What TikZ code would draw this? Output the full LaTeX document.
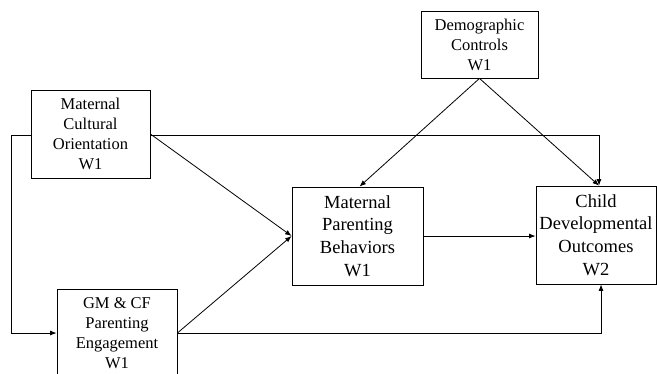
\documentclass[tikz,border=0pt]{standalone}
\usepackage{fontspec}
\setmainfont{Liberation Serif}
\usetikzlibrary{arrows.meta,calc}
\begin{document}
\begin{tikzpicture}[x=1pt,y=-1pt,
  smallbox/.style={draw,line width=0.8pt,inner sep=0pt,align=center,
    font=\fontsize{16.5}{20}\selectfont},
  bigbox/.style={draw,line width=0.8pt,inner sep=0pt,align=center,
    font=\fontsize{18.5}{22.7}\selectfont},
  conn/.style={line width=0.8pt,-{Latex[length=6.5pt,width=5pt]}},
  plain/.style={line width=0.8pt}]
\useasboundingbox[fill=white] (0,0) rectangle (657,373);
\node[smallbox,minimum width=119pt,minimum height=88pt] (mco) at (90.5,134) {Maternal\\Cultural\\Orientation\\W1};
\node[smallbox,minimum width=117pt,minimum height=67pt] (demo) at (479.5,44.5) {Demographic\\Controls\\W1};
\node[smallbox,minimum width=120pt,minimum height=88pt] (gm) at (117,333) {GM \& CF\\Parenting\\Engagement\\W1};
\node[bigbox,minimum width=131pt,minimum height=98pt] (mpb) at (357.5,236) {Maternal\\Parenting\\Behaviors\\W1};
\node[bigbox,minimum width=120pt,minimum height=98pt] (child) at (596,235) {Child\\Developmental\\Outcomes\\W2};
\coordinate (ctop) at ([xshift=3pt]child.north);
\coordinate (cbot) at ([xshift=5pt]child.south);
\coordinate (mcoR) at ([yshift=-1pt]mco.east);
\coordinate (mcoL) at ([yshift=-1pt]mco.west);
\draw[conn] (mcoR) -| (ctop);
\draw[conn] (mcoL) -- ++(-19,0) |- (gm.west);
\draw[conn] (mco.east) -- (mpb.west);
\draw[conn] (gm.east) -- (mpb.west);
\draw[conn] (gm.east) -| (cbot);
\draw[conn] (mpb.east) -- (mpb.east -| child.west);
\draw[conn] (demo.south) -- ([xshift=2pt]mpb.north);
\draw[conn] (demo.south) -- (ctop);
\end{tikzpicture}
\end{document}
